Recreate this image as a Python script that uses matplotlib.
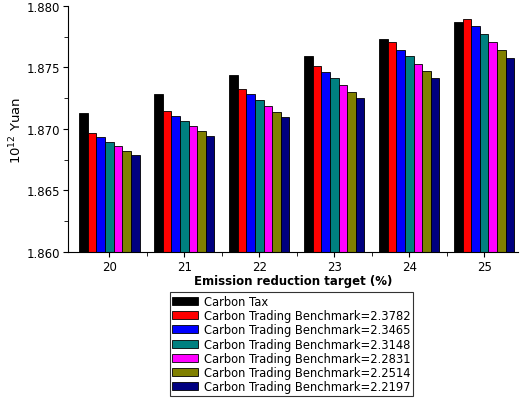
import numpy as np
import matplotlib.pyplot as plt

targets = ['20', '21', '22', '23', '24', '25']
labels = ['Carbon Tax',
          'Carbon Trading Benchmark=2.3782',
          'Carbon Trading Benchmark=2.3465',
          'Carbon Trading Benchmark=2.3148',
          'Carbon Trading Benchmark=2.2831',
          'Carbon Trading Benchmark=2.2514',
          'Carbon Trading Benchmark=2.2197']
colors = ['black', 'red', 'blue', '#008080', 'magenta', '#808000', '#000080']

carbon_tax = [1.87127, 1.87281, 1.87435, 1.87592, 1.87732, 1.87873]
b23782 = [1.86968, 1.87143, 1.87327, 1.87511, 1.87705, 1.87897]
b23465 = [1.86932, 1.87105, 1.87281, 1.87462, 1.87643, 1.87835]
b23148 = [1.86892, 1.87065, 1.87235, 1.87411, 1.87589, 1.87770]
b22831 = [1.86859, 1.87022, 1.87186, 1.87357, 1.87530, 1.87705]
b22514 = [1.86824, 1.86981, 1.87141, 1.87300, 1.87473, 1.87641]
b22197 = [1.86789, 1.86941, 1.87097, 1.87251, 1.87411, 1.87578]
series = [carbon_tax, b23782, b23465, b23148, b22831, b22514, b22197]

fig = plt.figure(figsize=(5.2, 4.06), dpi=100)
ax = fig.add_axes([0.131, 0.377, 0.865, 0.606])

x = np.arange(len(targets))
w = 0.115
for i, (vals, c, lab) in enumerate(zip(series, colors, labels)):
    # shadow
    ax.bar(x + (i - 3) * w + 0.012, np.array(vals) - 1.860, w, bottom=1.860 - 0.00012,
           color='#b0b0b0', edgecolor='none', zorder=1)
    ax.bar(x + (i - 3) * w, np.array(vals) - 1.860, w, bottom=1.860,
           color=c, edgecolor='black', linewidth=0.6, label=lab, zorder=2)

ax.set_ylim(1.860, 1.880)
ax.set_xlim(-0.55, 5.45)
ax.set_yticks(np.arange(1.860, 1.8801, 0.005))
ax.set_yticklabels(['%.3f' % v for v in np.arange(1.860, 1.8801, 0.005)])
ax.set_yticks(np.arange(1.860, 1.8801, 0.0025), minor=True)
ax.set_xticks(x)
ax.set_xticklabels(targets)
ax.set_xticks(x[:-1] + 0.5, minor=True)
ax.tick_params(direction='out', labelsize=8.5, pad=2)
ax.tick_params(which='minor', direction='out', length=3)
for s in ['top', 'right']:
    ax.spines[s].set_visible(False)
ax.set_xlabel('Emission reduction target (%)', fontsize=8.5, fontweight='bold', labelpad=1)
ax.set_ylabel('10$^{12}$ Yuan', fontsize=9.5, labelpad=2)

h, l = ax.get_legend_handles_labels()
leg = fig.legend(h, l, loc='lower left', bbox_to_anchor=(0.315, 0.008), fontsize=8.3,
                 frameon=True, fancybox=False, edgecolor='black', borderpad=0.25,
                 labelspacing=0.1, handlelength=2.2, handletextpad=0.5)
leg.get_frame().set_linewidth(0.8)

fig.savefig('out.png', dpi=100)
